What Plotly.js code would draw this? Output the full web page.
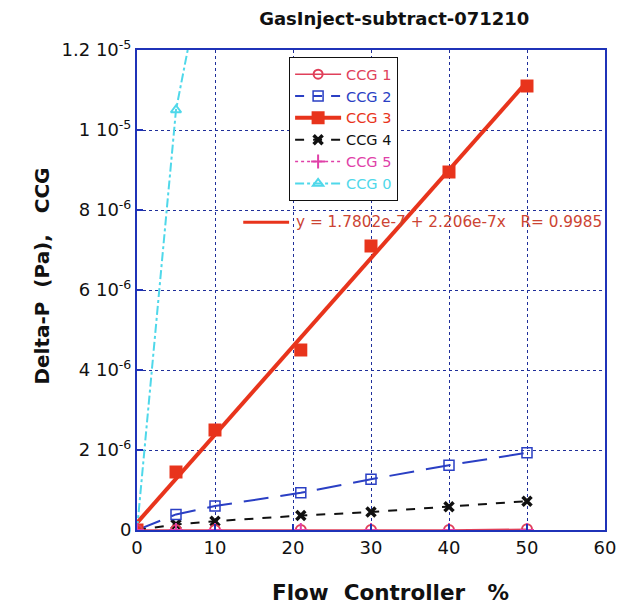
<!DOCTYPE html>
<html><head><meta charset="utf-8">
<script src="https://cdn.plot.ly/plotly-3.0.1.min.js"></script>
<style>html,body{margin:0;padding:0;background:#fff}</style>
</head><body>
<div id="chart" style="width:637px;height:612px"></div>
<script>
const flow = [0, 5, 10, 21, 30, 40, 50];
const ccg1 = [0, 0, 0, 0, 0, 0, 0.02e-6];
const ccg2 = [0, 0.39e-6, 0.6e-6, 0.93e-6, 1.27e-6, 1.62e-6, 1.93e-6];
const ccg3 = [0, 1.45e-6, 2.5e-6, 4.5e-6, 7.1e-6, 8.95e-6, 11.1e-6];
const ccg4 = [0, 0.14e-6, 0.22e-6, 0.36e-6, 0.45e-6, 0.58e-6, 0.72e-6];
const ccg5 = [0, 0, 0, 0, 0, 0, 0];
const flow0 = [0, 5, 10];
const ccg0 = [0, 10.5e-6, 15.5e-6];
const fitX = [0, 50];
const fitY = [1.7802e-7, 1.7802e-7 + 2.206e-7 * 50];
const fitText = 'y = 1.7802e-7 + 2.206e-7x   R= 0.9985';
const yTickVals = [0, 2e-6, 4e-6, 6e-6, 8e-6, 1e-5, 1.2e-5];
const yTickText = ['0', '2 10<sup>-6</sup>', '4 10<sup>-6</sup>', '6 10<sup>-6</sup>', '8 10<sup>-6</sup>', '1 10<sup>-5</sup>', '1.2 10<sup>-5</sup>'];
const xTickVals = [0, 10, 20, 30, 40, 50, 60];

const cRed = '#e8341c', cCCG1 = '#e0405a', cBlue = '#2a3fc4', cBlack = '#111', cMag = '#e040a8', cCyan = '#4fd8ea';
const lab = (t, c) => '<span style="color:' + c + '">' + t + '</span>';

const traces = [
  {x: fitX, y: fitY, mode: 'lines', line: {color: cRed, width: 4}, showlegend: false, hoverinfo: 'skip'},
  {x: flow0, y: ccg0, mode: 'lines+markers', name: lab('CCG 0', cCyan), line: {color: cCyan, width: 2, dash: 'dashdot'},
   marker: {symbol: 'triangle-up-open', size: 9, color: cCyan, line: {width: 2}}, showlegend: false},
  {x: flow, y: ccg4, mode: 'lines+markers', name: lab('CCG 4', cBlack), line: {color: cBlack, width: 2, dash: 'dash'},
   marker: {symbol: 'x-thin-open', size: 9, color: cBlack, line: {width: 3.5, color: cBlack}}, showlegend: false},
  {x: flow, y: ccg2, mode: 'lines+markers', name: lab('CCG 2', cBlue), line: {color: cBlue, width: 2, dash: '25px,12px'},
   marker: {symbol: 'square-open', size: 10, color: cBlue, line: {width: 1.5}}, showlegend: false},
  {x: flow, y: ccg3, mode: 'markers', name: lab('CCG 3', cRed),
   marker: {symbol: 'square', size: 13, color: cRed}, showlegend: false},
  {x: flow, y: ccg1, mode: 'lines+markers', name: lab('CCG 1', cCCG1), line: {color: cCCG1, width: 1.5},
   marker: {symbol: 'circle-open', size: 10, color: cCCG1, line: {width: 2}}, showlegend: false},
  {x: flow, y: ccg5, mode: 'markers', name: lab('CCG 5', cMag),
   marker: {symbol: 'cross-thin-open', size: 10, color: cMag, line: {width: 2, color: cMag}}, showlegend: false},
  // legend entries
  {x: [null], y: [null], mode: 'lines+markers', name: lab('CCG 1', cCCG1), line: {color: cCCG1, width: 1.5}, marker: {symbol: 'circle-open', size: 9, color: cCCG1, line: {width: 2}}},
  {x: [null], y: [null], mode: 'lines+markers', name: lab('CCG 2', cBlue), line: {color: cBlue, width: 2, dash: 'dash'}, marker: {symbol: 'square-open', size: 10, color: cBlue, line: {width: 1.5}}},
  {x: [null], y: [null], mode: 'lines+markers', name: lab('CCG 3', cRed), line: {color: cRed, width: 4}, marker: {symbol: 'square', size: 13, color: cRed}},
  {x: [null], y: [null], mode: 'lines+markers', name: lab('CCG 4', cBlack), line: {color: cBlack, width: 2, dash: 'dash'}, marker: {symbol: 'x-thin-open', size: 9, color: cBlack, line: {width: 3.5, color: cBlack}}},
  {x: [null], y: [null], mode: 'lines+markers', name: lab('CCG 5', cMag), line: {color: cMag, width: 1.5, dash: 'dot'}, marker: {symbol: 'cross-thin-open', size: 10, color: cMag, line: {width: 2, color: cMag}}},
  {x: [null], y: [null], mode: 'lines+markers', name: lab('CCG 0', cCyan), line: {color: cCyan, width: 2, dash: 'dashdot'}, marker: {symbol: 'triangle-up-open', size: 9, color: cCyan, line: {width: 2}}}
];

const axisCommon = {
  showline: true, linecolor: '#1f33b8', linewidth: 2, mirror: true,
  showgrid: true, gridcolor: '#1f2f9a', gridwidth: 1, griddash: 'dot',
  ticks: 'inside', ticklen: 6, tickcolor: '#1f33b8', tickwidth: 2,
  zeroline: false, tickfont: {family: 'DejaVu Sans', size: 18, color: '#111'}
};

const layout = {
  width: 637, height: 612,
  margin: {l: 137, r: 32, t: 50, b: 82},
  paper_bgcolor: '#fff', plot_bgcolor: '#fff',
  font: {family: 'DejaVu Sans', color: '#111'},
  title: {text: '<b>GasInject-subtract-071210</b>', x: 0.619, xanchor: 'center', y: 0.97, yanchor: 'middle',
          font: {family: 'DejaVu Sans', size: 18, color: '#111'}},
  xaxis: Object.assign({}, axisCommon, {range: [0, 60], tickvals: xTickVals}),
  yaxis: Object.assign({}, axisCommon, {range: [0, 1.2e-5], tickvals: yTickVals, ticktext: yTickText}),
  showlegend: true,
  legend: {x: 0.325, y: 0.985, xanchor: 'left', yanchor: 'top', bgcolor: '#fff', bordercolor: '#111', borderwidth: 1,
           font: {family: 'DejaVu Sans', size: 14.5}, tracegroupgap: 0, itemwidth: 46},
  annotations: [
    {xref: 'paper', yref: 'paper', x: 0.335, y: 0.641, xanchor: 'left', yanchor: 'middle', showarrow: false,
     text: fitText, font: {family: 'DejaVu Sans', size: 15.3, color: '#cc4433'}},
    {xref: 'paper', yref: 'paper', x: 0.541, y: -0.131, xanchor: 'center', yanchor: 'middle', showarrow: false,
     text: '<b>Flow  Controller   %</b>', font: {family: 'DejaVu Sans', size: 21.5, color: '#111'}},
    {xref: 'paper', yref: 'paper', x: -0.203, y: 0.53, xanchor: 'center', yanchor: 'middle', showarrow: false, textangle: -90,
     text: '<b>Delta-P  (Pa),   CCG</b>', font: {family: 'DejaVu Sans', size: 20, color: '#111'}}
  ],
  shapes: [{type: 'line', xref: 'paper', yref: 'paper', x0: 0.227, x1: 0.325, y0: 0.641, y1: 0.641, line: {color: cRed, width: 3}}]
};

Plotly.newPlot('chart', traces, layout, {displayModeBar: false, staticPlot: true});
</script>
</body></html>
